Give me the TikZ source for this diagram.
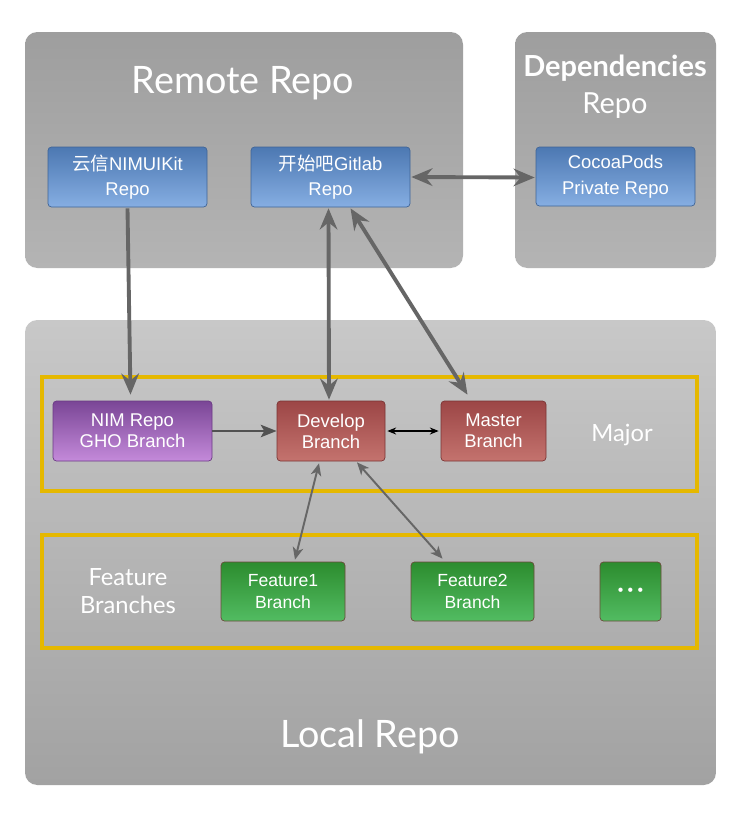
\documentclass[tikz,border=0pt]{standalone}
\usepackage{fontspec}
\setmainfont{Liberation Sans}
\newfontfamily\cjk{Noto Sans CJK SC}
\newfontfamily\titlefont{Lato}
\usetikzlibrary{arrows.meta,positioning,calc}

\definecolor{panelTop}{HTML}{9E9E9E}
\definecolor{panelBot}{HTML}{B4B4B4}
\definecolor{localTop}{HTML}{C8C8C8}
\definecolor{localBot}{HTML}{A2A2A2}
\definecolor{frameYellow}{HTML}{E5B800}
\definecolor{blueTop}{HTML}{4C78B2}
\definecolor{blueBot}{HTML}{86AEE2}
\definecolor{blueLine}{HTML}{3F6496}
\definecolor{redTop}{HTML}{9C4646}
\definecolor{redBot}{HTML}{C4736E}
\definecolor{redLine}{HTML}{7A3434}
\definecolor{purpleTop}{HTML}{7A4696}
\definecolor{purpleBot}{HTML}{C48ADA}
\definecolor{purpleLine}{HTML}{6A3A84}
\definecolor{greenTop}{HTML}{2C8C2E}
\definecolor{greenBot}{HTML}{52BC62}
\definecolor{greenLine}{HTML}{6A4A3A}
\definecolor{arrowGray}{HTML}{666666}

\tikzset{
  box/.style={rounded corners=2pt, text=white, align=center, inner sep=0pt,
    font=\fontsize{10.5}{12}\selectfont},
  bluebox/.style={box, top color=blueTop, bottom color=blueBot, draw=blueLine,
    font=\fontsize{10.5}{14.5}\selectfont},
  redbox/.style={box, top color=redTop, bottom color=redBot, draw=redLine},
  purplebox/.style={box, top color=purpleTop, bottom color=purpleBot, draw=purpleLine},
  greenbox/.style={box, top color=greenTop, bottom color=greenBot, draw=greenLine,
    font=\fontsize{10}{12.5}\selectfont},
  panel/.style={rounded corners=7pt, top color=panelTop, bottom color=panelBot},
  frame/.style={draw=frameYellow, line width=2.8pt},
  title/.style={text=white, font=\titlefont\fontsize{21.5}{24}\selectfont},
  label/.style={text=white, align=center, font=\titlefont\fontsize{13.5}{16}\selectfont},
  bigarrow/.style={draw=arrowGray, line width=2.2pt, -{Stealth[length=12pt, width=10pt, inset=4pt]}},
  bigboth/.style={bigarrow, {Stealth[length=12pt, width=10pt, inset=4pt]}-{Stealth[length=12pt, width=10pt, inset=4pt]}},
  thinboth/.style={draw=arrowGray, line width=1.1pt, {Stealth[length=7pt, width=6pt, inset=2pt]}-{Stealth[length=7pt, width=6pt, inset=2pt]}}
}

\begin{document}
\begin{tikzpicture}[x=0.02cm, y=-0.02cm]
    \useasboundingbox (0,0) rectangle (748,825);
    \fill [white] (0,0) rectangle (748,825);

    % Panels
    \shade [panel] (25,32) rectangle (463,268);
    \shade [panel] (515,32) rectangle (716,268);
    \shade [rounded corners=7pt, top color=localTop, bottom color=localBot] (25,320) rectangle (716,785);

    % Yellow frames
    \draw [frame] (42,377) rectangle (697,491);
    \draw [frame] (42,535) rectangle (697,648);

    % Titles
    \node [title] (remote) at (243,83) {Remote Repo};
    \node [text=white, align=center, font=\titlefont\fontsize{16.5}{21}\selectfont] (deps) at (615,87) {\textbf{Dependencies}\\Repo};
    \node [title] (local) at (370,737) {Local Repo};
    \node [label] (major) at (622,435) {Major};
    \node [label] (featlabel) at (128,591) {Feature\\Branches};

    % Remote nodes
    \node [bluebox, minimum width=159*0.02cm, minimum height=60*0.02cm] (nimkit) at (127.5,177) {{\cjk 云信}NIMUIKit\\Repo};
    \node [bluebox, minimum width=159*0.02cm, minimum height=60*0.02cm] (gitlab) at (330.5,177) {{\cjk 开始吧}Gitlab\\Repo};
    \node [bluebox, minimum width=159*0.02cm, minimum height=59*0.02cm] (pods) at (615.5,176.5) {CocoaPods\\Private Repo};

    % Major branches
    \node [purplebox, minimum width=159*0.02cm, minimum height=60*0.02cm] (nim) at (132.5,431) {NIM Repo\\GHO Branch};
    \node [redbox, minimum width=108*0.02cm, minimum height=60*0.02cm] (dev) at (331,431) {Develop\\Branch};
    \node [redbox, minimum width=105*0.02cm, minimum height=60*0.02cm] (mas) at (493.5,431) {Master\\Branch};

    % Feature branches
    \node [greenbox, minimum width=124*0.02cm, minimum height=59*0.02cm] (feat1) at (283,591.5) {Feature1\\Branch};
    \node [greenbox, minimum width=123*0.02cm, minimum height=59*0.02cm] (feat2) at (472.5,591.5) {Feature2\\Branch};
    \node [greenbox, minimum width=61*0.02cm, minimum height=59*0.02cm, font=\fontsize{9}{12}\selectfont] (more) at (630.5,591.5) {\textbullet\hspace{2.5pt}\textbullet\hspace{2.5pt}\textbullet};

    % Connectors
    \draw [bigarrow] ($(nimkit.south)+(0,1)$) -- ($(nim.north)+(-2,-6)$);
    \draw [bigboth] ($(gitlab.south)+(-2,1)$) -- ($(dev.north)+(-2,-1)$);
    \draw [bigboth] ($(gitlab.south)+(20,1)$) -- ($(mas.north)+(-26,-6)$);
    \draw [bigboth] ($(gitlab.east)+(1,0)$) -- ($(pods.west)+(-1,1)$);
    \draw [draw=arrowGray!80!black, line width=1.6pt, -{Stealth[length=9pt, width=7pt, inset=2pt]}] (nim.east) -- (dev.west);
    \draw [black, line width=0.8pt, {Stealth[length=5pt, width=4pt]}-{Stealth[length=5pt, width=4pt]}] ($(dev.east)+(2,0)$) -- ($(mas.west)+(-2,0)$);
    \draw [thinboth] ($(dev.south)+(-12,2)$) -- ($(feat1.north)+(12,-2)$);
    \draw [thinboth] ($(dev.south)+(26,1)$) -- ($(feat2.north)+(-30,-3)$);
\end{tikzpicture}
\end{document}
